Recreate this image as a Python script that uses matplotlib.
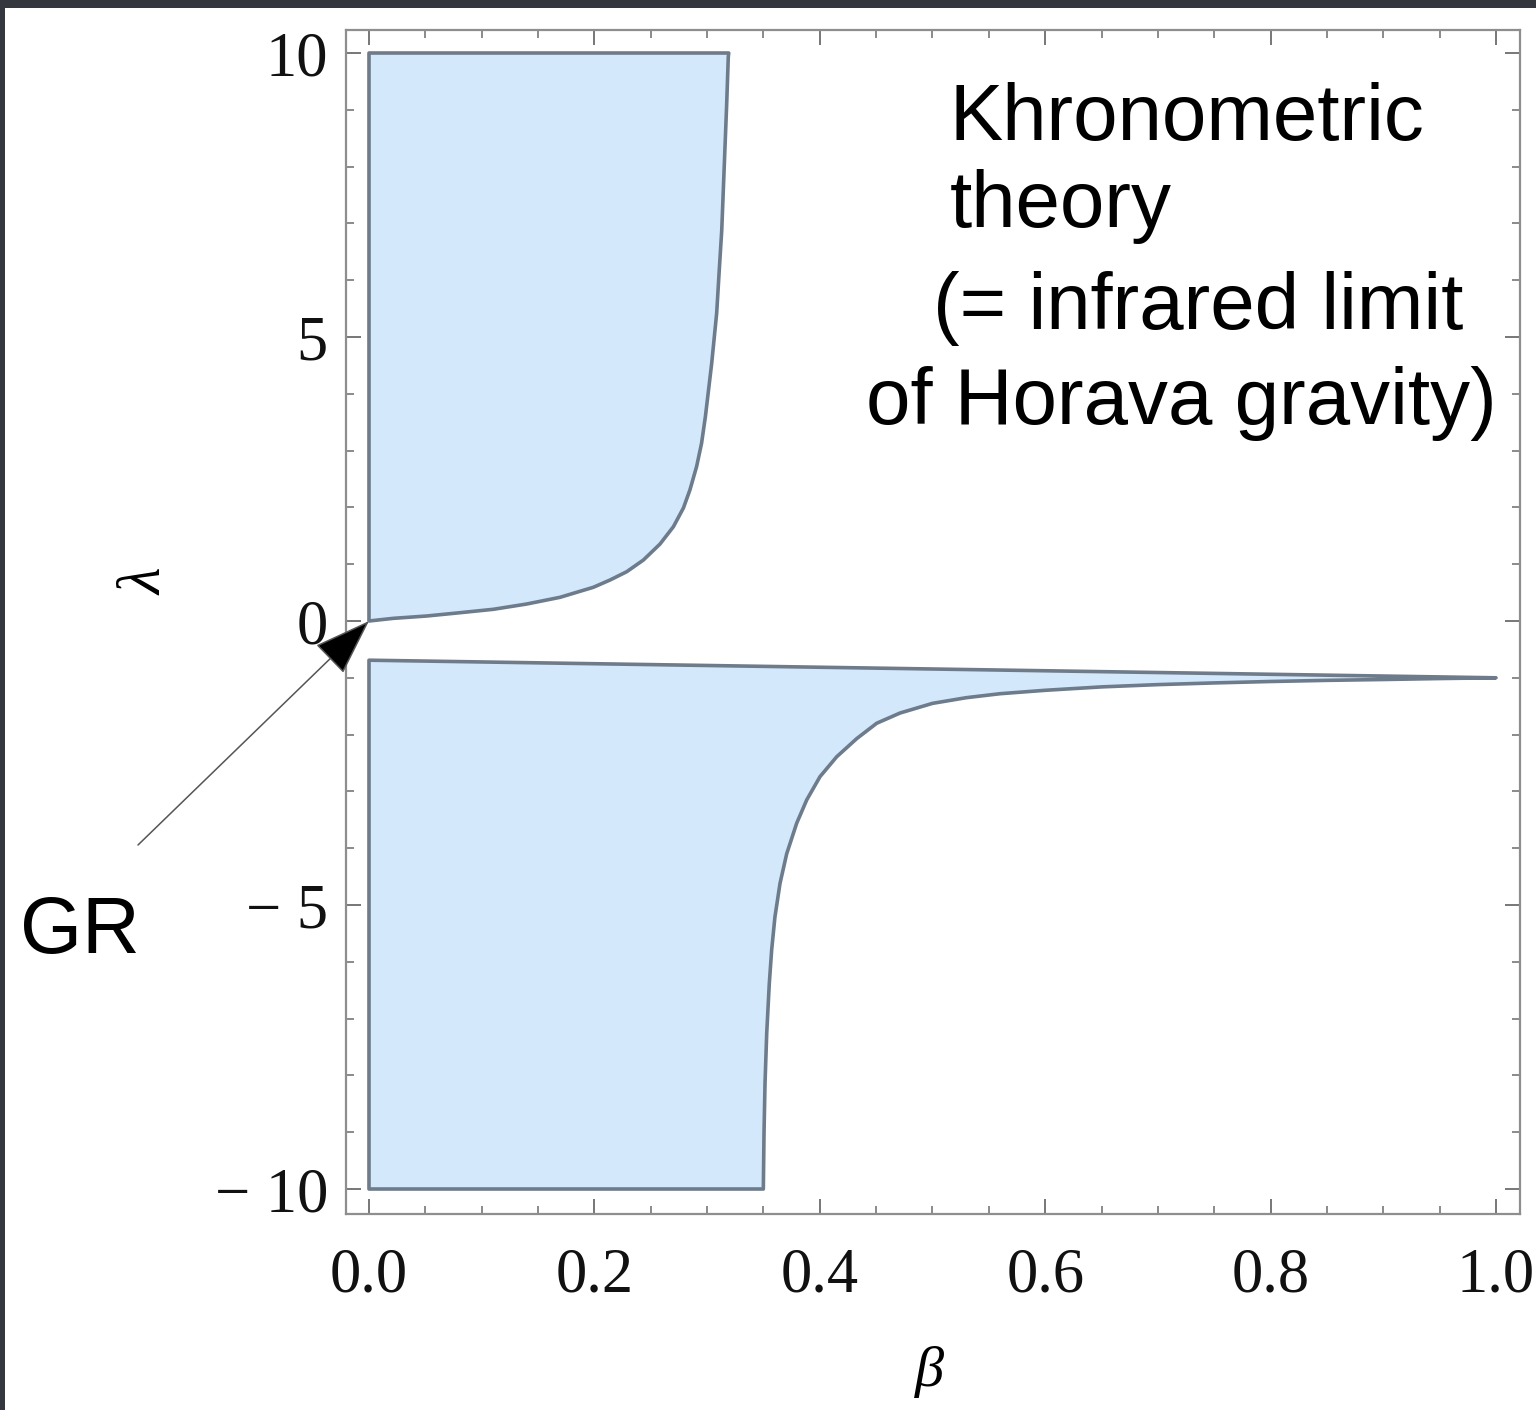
import matplotlib
matplotlib.use("Agg")
import matplotlib.pyplot as plt
from matplotlib.patches import Rectangle
from matplotlib.ticker import MultipleLocator, FixedLocator, FixedFormatter

# ---- data ----
upper_beta = [0.0, 0.0216, 0.0512, 0.0807, 0.1103, 0.1399, 0.1695, 0.1990, 0.2139,
              0.2287, 0.2435, 0.2582, 0.2701, 0.2790, 0.2848, 0.2907, 0.2951, 0.2985,
              0.3041, 0.3085, 0.3108, 0.3130, 0.3144, 0.3159, 0.3174, 0.3188, 0.3192]
upper_lambda = [0.0, 0.047, 0.088, 0.146, 0.206, 0.299, 0.417, 0.593, 0.722,
                0.868, 1.074, 1.355, 1.66, 1.99, 2.31, 2.72, 3.13, 3.60,
                4.54, 5.42, 6.18, 6.88, 7.59, 8.35, 9.11, 9.93, 10.0]
upper_top = 10.0

lower_top_beta = [0.0, 1.0]
lower_top_lambda = [-0.69, -1.0]
lower_curve_beta = [1.0, 0.95, 0.9, 0.85, 0.8, 0.75, 0.7, 0.65, 0.6, 0.56, 0.53, 0.5,
                    0.4712, 0.4505, 0.4328, 0.4150, 0.4002, 0.3884, 0.3795, 0.3706,
                    0.3647, 0.3602, 0.3573, 0.3552, 0.3529, 0.3514, 0.3505, 0.3499]
lower_curve_lambda = [-1.0, -1.013, -1.03, -1.045, -1.065, -1.09, -1.12, -1.16, -1.22, -1.28, -1.35, -1.45,
                      -1.62, -1.80, -2.07, -2.39, -2.74, -3.15, -3.56, -4.10,
                      -4.62, -5.21, -5.79, -6.38, -7.26, -8.14, -9.02, -10.0]
lower_bottom = -10.0

x_ticks = [0.0, 0.2, 0.4, 0.6, 0.8, 1.0]
x_ticklabels = ["0.0", "0.2", "0.4", "0.6", "0.8", "1.0"]
y_ticks = [-10, -5, 0, 5, 10]
y_ticklabels = ["\u2212 10", "\u2212 5", "0", "5", "10"]

title_lines = ["Khronometric", "theory", "(= infrared limit", "of Horava gravity)"]
gr_label = "GR"

# ---- figure ----
W, H, DPI = 1536, 1410, 100
fig = plt.figure(figsize=(W / DPI, H / DPI), dpi=DPI)
fig.patch.set_facecolor("white")

# dark slide background strips (top and left)
fig.patches.append(Rectangle((0, 1 - 8 / H), 1, 8 / H, transform=fig.transFigure,
                             facecolor="#34373e", edgecolor="none", zorder=0))
fig.patches.append(Rectangle((0, 0), 5 / W, 1, transform=fig.transFigure,
                             facecolor="#34373e", edgecolor="none", zorder=0))

L, R, T, B = 346, 1520, 30, 1214
ax = fig.add_axes([L / W, 1 - B / H, (R - L) / W, (B - T) / H])

fill_c = "#d4e8fb"
edge_c = "#6e7b8b"

# upper region
ub = list(upper_beta) + [0.0]
ul = list(upper_lambda) + [upper_top]
ax.fill(ub, ul, facecolor=fill_c, edgecolor=edge_c, linewidth=2.6, joinstyle="round", zorder=2)

# lower region
lb = list(lower_top_beta) + list(lower_curve_beta)[1:] + [0.0]
ll = list(lower_top_lambda) + list(lower_curve_lambda)[1:] + [lower_bottom]
ax.fill(lb, ll, facecolor=fill_c, edgecolor=edge_c, linewidth=2.6, joinstyle="round", zorder=2)

ax.set_xlim(-0.0204, 1.0213)
ax.set_ylim(-10.44, 10.405)

frame_c = "#8e8e8e"
for s in ax.spines.values():
    s.set_color(frame_c)
    s.set_linewidth(1.6)

serif = ["Liberation Serif", "DejaVu Serif"]
ax.xaxis.set_major_locator(FixedLocator(x_ticks))
ax.xaxis.set_major_formatter(FixedFormatter(x_ticklabels))
ax.xaxis.set_minor_locator(MultipleLocator(0.05))
ax.yaxis.set_major_locator(FixedLocator(y_ticks))
ax.yaxis.set_major_formatter(FixedFormatter(y_ticklabels))
ax.yaxis.set_minor_locator(MultipleLocator(1))

ax.tick_params(which="both", direction="in", top=True, right=True, color="#777777")
ax.tick_params(which="major", length=11, width=1.4)
ax.tick_params(which="minor", length=6, width=1.2)
ax.tick_params(axis="x", which="major", pad=24, labelsize=45)
ax.tick_params(axis="y", which="major", pad=13, labelsize=45)
for lab in ax.get_xticklabels() + ax.get_yticklabels():
    lab.set_family(serif)
    lab.set_color("#111111")

ax.set_xlabel("\u03b2", fontsize=42, family=serif, style="italic")
ax.xaxis.set_label_coords((930 - L) / (R - L), -(1346 - B) / (B - T))
ax.set_ylabel("\u03bb", fontsize=44, family=serif, style="italic", rotation=90)
ax.yaxis.set_label_coords((175 - L) / (R - L), (B - 582) / (B - T))

# annotation text (figure pixel coords)
sans = ["Liberation Sans", "DejaVu Sans"]
line_pos = [(950, 140), (950, 227), (933, 329), (866, 424)]
for txt, (px, py) in zip(title_lines, line_pos):
    fig.text(px / W, 1 - py / H, txt, fontsize=57.5, family=sans, ha="left", va="baseline",
             color="black")

fig.text(20 / W, 1 - 953 / H, gr_label, fontsize=57.5, family=sans, ha="left", va="baseline",
         color="black")

# arrow to GR point (0, 0)
tail = ((138 - 369) / 1127, (621 - 845) / 56.8)
ax.annotate("", xy=(0.0, 0.0), xytext=tail, annotation_clip=False,
            arrowprops=dict(arrowstyle="-|>,head_length=0.37,head_width=0.13",
                            mutation_scale=100, shrinkA=0, shrinkB=0,
                            facecolor="black", edgecolor="#555555", lw=1.1),
            zorder=5)

fig.savefig("out.png", dpi=DPI)
